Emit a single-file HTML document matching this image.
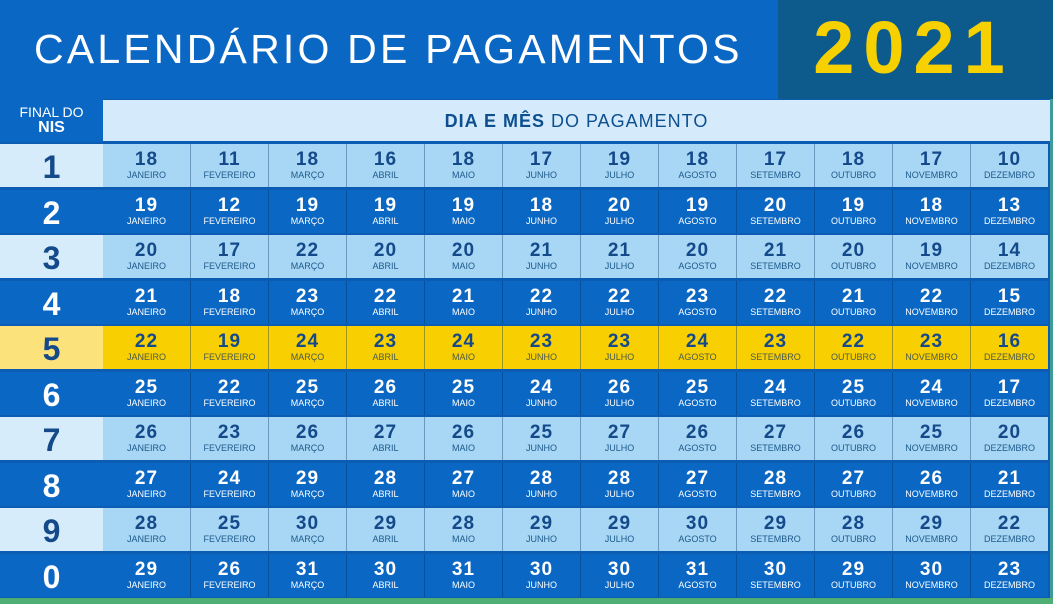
<!DOCTYPE html>
<html><head><meta charset="utf-8"><style>
*{margin:0;padding:0;box-sizing:border-box}
body{width:1053px;height:604px;overflow:hidden;background:#0b5cb2;font-family:"Liberation Sans",sans-serif;position:relative}
.hdr{position:absolute;left:0;top:0;width:1053px;height:99px;background:#0a67c4}
.yr{position:absolute;left:778px;top:0;width:275px;height:99px;background:#0d5b8d;color:#f7d000;font-weight:bold;font-size:74px;text-align:center;line-height:96px;letter-spacing:9px;padding-right:4px}
.title{position:absolute;left:34px;top:27px;color:#fff;font-size:41px;letter-spacing:3.2px;line-height:44px;white-space:nowrap}
.lab0{position:absolute;left:0;top:99px;width:103px;height:43px;background:#0a67c4;color:#fff;text-align:center}
.sub{position:absolute;left:103px;top:100px;width:947px;height:41px;background:#d5ebfb;color:#0d4f8f;font-size:18px;text-align:center;line-height:42px;letter-spacing:1px}
.edge{position:absolute;left:1050px;top:99px;width:3px;height:499px;background:#3f9a9a}
.row{position:absolute;left:0;width:1050px;height:43px;display:flex}
.row .l{width:103px;height:43px;font-weight:bold;font-size:32px;text-align:center;line-height:46px}
.row .c{width:78px;height:43px;text-align:center;border-left:1px solid rgba(0,40,90,.35);padding-top:7px}
.row .c:nth-child(2){width:87px;border-left:none}
.c b{display:block;font-size:19px;line-height:18px;letter-spacing:1px}
.c i{display:block;font-style:normal;font-size:9px;line-height:12px}
.o .l{background:#d7ecfb;color:#14498a}.o .c{background:#a8d6f5;color:#14498a}
.o .c i{color:#1d5a8a}
.e .l,.e .c{background:#0a67c4;color:#fff}
.y .l{background:#fbe27a;color:#14498a}.y .c{background:#f8cf00;color:#14498a}
.y .c i{color:#4a5a50}
.grn{position:absolute;left:0;top:598px;width:1053px;height:6px;background:#4fae73}
</style></head><body>
<div class="hdr"></div>
<div class="title">CALENDÁRIO DE PAGAMENTOS</div>
<div class="yr">2021</div>
<div class="lab0"><div style="font-size:14px;line-height:15px;padding-top:6px">FINAL DO</div><div style="font-size:16px;font-weight:bold;line-height:16px">NIS</div></div>
<div class="sub"><b>DIA E MÊS</b> DO PAGAMENTO</div>
<div class="edge"></div>

<div class="row o" style="top:144px"><div class="l">1</div>
<div class="c"><b>18</b><i>JANEIRO</i></div><div class="c"><b>11</b><i>FEVEREIRO</i></div><div class="c"><b>18</b><i>MARÇO</i></div><div class="c"><b>16</b><i>ABRIL</i></div><div class="c"><b>18</b><i>MAIO</i></div><div class="c"><b>17</b><i>JUNHO</i></div><div class="c"><b>19</b><i>JULHO</i></div><div class="c"><b>18</b><i>AGOSTO</i></div><div class="c"><b>17</b><i>SETEMBRO</i></div><div class="c"><b>18</b><i>OUTUBRO</i></div><div class="c"><b>17</b><i>NOVEMBRO</i></div><div class="c"><b>10</b><i>DEZEMBRO</i></div></div>

<div class="row e" style="top:190px"><div class="l">2</div>
<div class="c"><b>19</b><i>JANEIRO</i></div><div class="c"><b>12</b><i>FEVEREIRO</i></div><div class="c"><b>19</b><i>MARÇO</i></div><div class="c"><b>19</b><i>ABRIL</i></div><div class="c"><b>19</b><i>MAIO</i></div><div class="c"><b>18</b><i>JUNHO</i></div><div class="c"><b>20</b><i>JULHO</i></div><div class="c"><b>19</b><i>AGOSTO</i></div><div class="c"><b>20</b><i>SETEMBRO</i></div><div class="c"><b>19</b><i>OUTUBRO</i></div><div class="c"><b>18</b><i>NOVEMBRO</i></div><div class="c"><b>13</b><i>DEZEMBRO</i></div></div>

<div class="row o" style="top:235px"><div class="l">3</div>
<div class="c"><b>20</b><i>JANEIRO</i></div><div class="c"><b>17</b><i>FEVEREIRO</i></div><div class="c"><b>22</b><i>MARÇO</i></div><div class="c"><b>20</b><i>ABRIL</i></div><div class="c"><b>20</b><i>MAIO</i></div><div class="c"><b>21</b><i>JUNHO</i></div><div class="c"><b>21</b><i>JULHO</i></div><div class="c"><b>20</b><i>AGOSTO</i></div><div class="c"><b>21</b><i>SETEMBRO</i></div><div class="c"><b>20</b><i>OUTUBRO</i></div><div class="c"><b>19</b><i>NOVEMBRO</i></div><div class="c"><b>14</b><i>DEZEMBRO</i></div></div>

<div class="row e" style="top:281px"><div class="l">4</div>
<div class="c"><b>21</b><i>JANEIRO</i></div><div class="c"><b>18</b><i>FEVEREIRO</i></div><div class="c"><b>23</b><i>MARÇO</i></div><div class="c"><b>22</b><i>ABRIL</i></div><div class="c"><b>21</b><i>MAIO</i></div><div class="c"><b>22</b><i>JUNHO</i></div><div class="c"><b>22</b><i>JULHO</i></div><div class="c"><b>23</b><i>AGOSTO</i></div><div class="c"><b>22</b><i>SETEMBRO</i></div><div class="c"><b>21</b><i>OUTUBRO</i></div><div class="c"><b>22</b><i>NOVEMBRO</i></div><div class="c"><b>15</b><i>DEZEMBRO</i></div></div>

<div class="row y" style="top:326px"><div class="l">5</div>
<div class="c"><b>22</b><i>JANEIRO</i></div><div class="c"><b>19</b><i>FEVEREIRO</i></div><div class="c"><b>24</b><i>MARÇO</i></div><div class="c"><b>23</b><i>ABRIL</i></div><div class="c"><b>24</b><i>MAIO</i></div><div class="c"><b>23</b><i>JUNHO</i></div><div class="c"><b>23</b><i>JULHO</i></div><div class="c"><b>24</b><i>AGOSTO</i></div><div class="c"><b>23</b><i>SETEMBRO</i></div><div class="c"><b>22</b><i>OUTUBRO</i></div><div class="c"><b>23</b><i>NOVEMBRO</i></div><div class="c"><b>16</b><i>DEZEMBRO</i></div></div>

<div class="row e" style="top:372px"><div class="l">6</div>
<div class="c"><b>25</b><i>JANEIRO</i></div><div class="c"><b>22</b><i>FEVEREIRO</i></div><div class="c"><b>25</b><i>MARÇO</i></div><div class="c"><b>26</b><i>ABRIL</i></div><div class="c"><b>25</b><i>MAIO</i></div><div class="c"><b>24</b><i>JUNHO</i></div><div class="c"><b>26</b><i>JULHO</i></div><div class="c"><b>25</b><i>AGOSTO</i></div><div class="c"><b>24</b><i>SETEMBRO</i></div><div class="c"><b>25</b><i>OUTUBRO</i></div><div class="c"><b>24</b><i>NOVEMBRO</i></div><div class="c"><b>17</b><i>DEZEMBRO</i></div></div>

<div class="row o" style="top:417px"><div class="l">7</div>
<div class="c"><b>26</b><i>JANEIRO</i></div><div class="c"><b>23</b><i>FEVEREIRO</i></div><div class="c"><b>26</b><i>MARÇO</i></div><div class="c"><b>27</b><i>ABRIL</i></div><div class="c"><b>26</b><i>MAIO</i></div><div class="c"><b>25</b><i>JUNHO</i></div><div class="c"><b>27</b><i>JULHO</i></div><div class="c"><b>26</b><i>AGOSTO</i></div><div class="c"><b>27</b><i>SETEMBRO</i></div><div class="c"><b>26</b><i>OUTUBRO</i></div><div class="c"><b>25</b><i>NOVEMBRO</i></div><div class="c"><b>20</b><i>DEZEMBRO</i></div></div>

<div class="row e" style="top:463px"><div class="l">8</div>
<div class="c"><b>27</b><i>JANEIRO</i></div><div class="c"><b>24</b><i>FEVEREIRO</i></div><div class="c"><b>29</b><i>MARÇO</i></div><div class="c"><b>28</b><i>ABRIL</i></div><div class="c"><b>27</b><i>MAIO</i></div><div class="c"><b>28</b><i>JUNHO</i></div><div class="c"><b>28</b><i>JULHO</i></div><div class="c"><b>27</b><i>AGOSTO</i></div><div class="c"><b>28</b><i>SETEMBRO</i></div><div class="c"><b>27</b><i>OUTUBRO</i></div><div class="c"><b>26</b><i>NOVEMBRO</i></div><div class="c"><b>21</b><i>DEZEMBRO</i></div></div>

<div class="row o" style="top:508px"><div class="l">9</div>
<div class="c"><b>28</b><i>JANEIRO</i></div><div class="c"><b>25</b><i>FEVEREIRO</i></div><div class="c"><b>30</b><i>MARÇO</i></div><div class="c"><b>29</b><i>ABRIL</i></div><div class="c"><b>28</b><i>MAIO</i></div><div class="c"><b>29</b><i>JUNHO</i></div><div class="c"><b>29</b><i>JULHO</i></div><div class="c"><b>30</b><i>AGOSTO</i></div><div class="c"><b>29</b><i>SETEMBRO</i></div><div class="c"><b>28</b><i>OUTUBRO</i></div><div class="c"><b>29</b><i>NOVEMBRO</i></div><div class="c"><b>22</b><i>DEZEMBRO</i></div></div>

<div class="row e" style="top:554px"><div class="l">0</div>
<div class="c"><b>29</b><i>JANEIRO</i></div><div class="c"><b>26</b><i>FEVEREIRO</i></div><div class="c"><b>31</b><i>MARÇO</i></div><div class="c"><b>30</b><i>ABRIL</i></div><div class="c"><b>31</b><i>MAIO</i></div><div class="c"><b>30</b><i>JUNHO</i></div><div class="c"><b>30</b><i>JULHO</i></div><div class="c"><b>31</b><i>AGOSTO</i></div><div class="c"><b>30</b><i>SETEMBRO</i></div><div class="c"><b>29</b><i>OUTUBRO</i></div><div class="c"><b>30</b><i>NOVEMBRO</i></div><div class="c"><b>23</b><i>DEZEMBRO</i></div></div>

<div class="grn"></div>
</body></html>
